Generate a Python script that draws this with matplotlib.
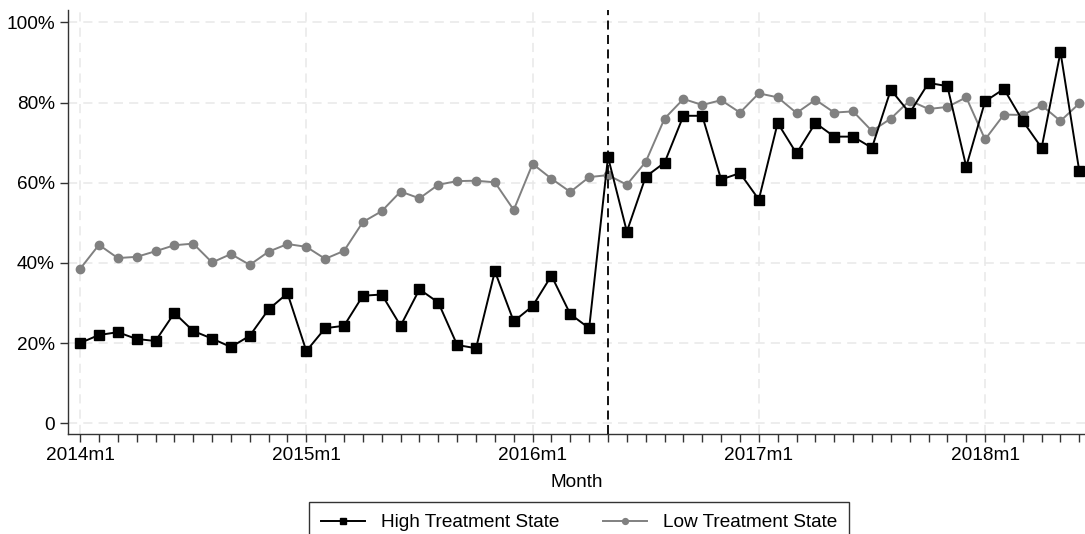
import numpy as np
import matplotlib
matplotlib.use("Agg")
import matplotlib.pyplot as plt

plt.rcParams['font.family'] = ['Liberation Sans', 'DejaVu Sans']

# monthly shares, 2014m1 .. 2018m6
high = [20.0, 22.0, 22.7, 21.0, 20.5, 27.5, 23.0, 21.1, 19.0, 21.8, 28.4, 32.4,
        18.0, 23.7, 24.3, 31.8, 32.1, 24.3, 33.4, 30.1, 19.5, 18.7, 37.9, 25.4,
        29.2, 36.8, 27.2, 23.7, 66.4, 47.8, 61.5, 65.0, 76.7, 76.7, 60.8, 62.4,
        55.8, 74.9, 67.3, 74.9, 71.5, 71.5, 68.7, 83.2, 77.4, 84.9, 84.1, 64.0,
        80.3, 83.4, 75.4, 68.7, 92.6, 62.8]
low = [38.5, 44.5, 41.2, 41.5, 42.9, 44.4, 44.8, 40.1, 42.2, 39.5, 42.8, 44.7,
       44.0, 41.0, 43.0, 50.2, 52.9, 57.8, 56.1, 59.5, 60.4, 60.5, 60.1, 53.2,
       64.7, 61.0, 57.7, 61.4, 61.9, 59.5, 65.2, 76.0, 80.9, 79.4, 80.6, 77.5,
       82.3, 81.3, 77.4, 80.7, 77.5, 77.8, 72.9, 76.0, 80.5, 78.4, 78.9, 81.3,
       70.8, 77.0, 76.9, 79.3, 75.4, 79.8]
year_labels = ["2014m1", "2015m1", "2016m1", "2017m1", "2018m1"]
y_ticks = [0, 20, 40, 60, 80, 100]
y_labels = ["0", "20%", "40%", "60%", "80%", "100%"]
policy_month = 28  # 2016m5

months = np.arange(len(high))
fs = 13.7

fig = plt.figure(figsize=(10.85, 5.34), dpi=100)
ax = fig.add_axes([0.0627, 0.1873, 0.9373, 0.794])

ax.plot(months, high, color='black', lw=1.4, marker='s', ms=6.5,
        label='High Treatment State', zorder=3)
ax.plot(months, low, color='#808080', lw=1.4, marker='o', ms=6,
        label='Low Treatment State', zorder=2)

ax.axvline(policy_month, color='black', ls=(0, (5, 3)), lw=1.3, zorder=4)

ax.set_xlim(-0.64, 53.3)
ax.set_ylim(-2.7, 103.1)

year_pos = np.arange(0, len(months), 12)
ax.set_xticks(months)
ax.set_xticklabels([year_labels[m // 12] if m % 12 == 0 else "" for m in months])
ax.set_yticks(y_ticks)
ax.set_yticklabels(y_labels)
ax.tick_params(axis='both', labelsize=fs, direction='out', length=6,
               width=1, color='#333333')

for yp in year_pos:
    ax.axvline(yp, color='#e8e8e8', ls=(0, (6, 4)), lw=1.1, zorder=0)
for yt in y_ticks:
    ax.axhline(yt, color='#e8e8e8', ls=(0, (6, 4)), lw=1.1, zorder=0)

for s in ['top', 'right']:
    ax.spines[s].set_visible(False)
for s in ['left', 'bottom']:
    ax.spines[s].set_color('#333333')
    ax.spines[s].set_linewidth(1.0)

ax.set_xlabel("Month", fontsize=fs, labelpad=7)

leg = fig.legend(loc='upper center', bbox_to_anchor=(579 / 1085, 1 - 502 / 534),
                 ncol=2, fontsize=fs, frameon=True, fancybox=False,
                 edgecolor='black', handlelength=2.3, handletextpad=0.84,
                 columnspacing=2.3, borderpad=0.63, borderaxespad=0,
                 markerscale=0.7)
leg.get_frame().set_linewidth(1.0)

fig.savefig("out.png", dpi=100)
